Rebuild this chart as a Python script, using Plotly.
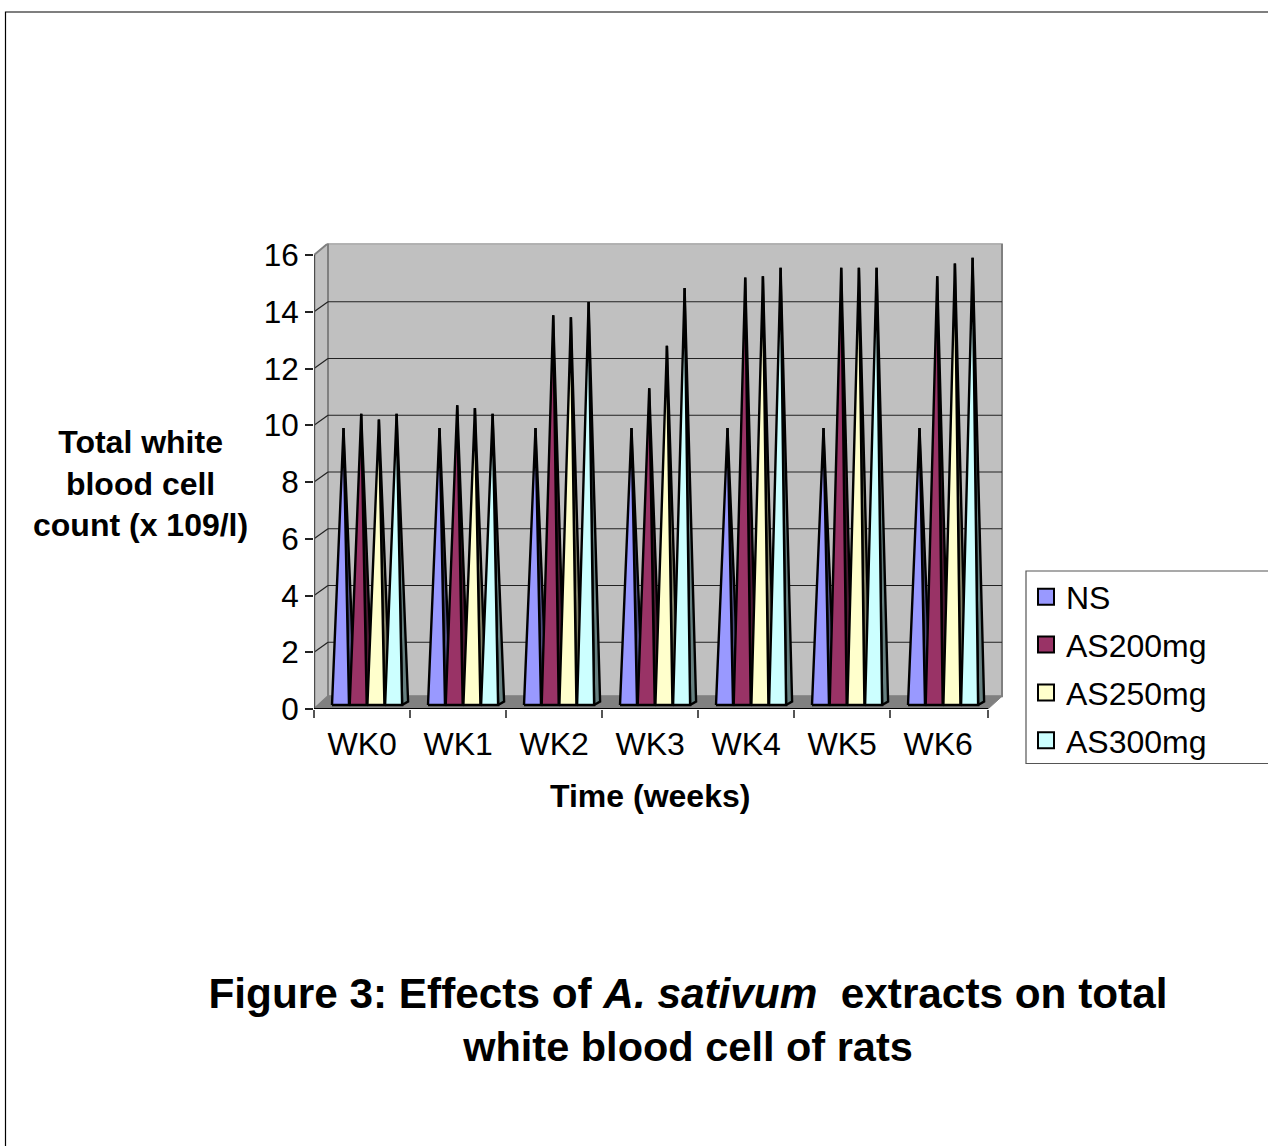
import plotly.graph_objects as go

categories = ["WK0", "WK1", "WK2", "WK3", "WK4", "WK5", "WK6"]
series_names = ["NS", "AS200mg", "AS250mg", "AS300mg"]
ns = [9.7, 9.7, 9.7, 9.7, 9.7, 9.7, 9.7]
as200 = [10.2, 10.5, 13.67, 11.1, 15.0, 15.35, 15.05]
as250 = [10.0, 10.4, 13.6, 12.6, 15.05, 15.35, 15.5]
as300 = [10.2, 10.2, 14.14, 14.63, 15.35, 15.35, 15.7]
series_values = [ns, as200, as250, as300]
y_ticks = list(range(0, 17, 2))

face_colors = ["#9999FF", "#993366", "#FFFFCC", "#CCFFFF"]
side_colors = ["#4C4C80", "#4C1933", "#808066", "#668080"]

W, H = 1268, 1146
X0, X1, Y0, Y1 = 314, 1003, 709, 243.5
PX = 674 / 7
PY = (709 - 255) / 16
PITCH = 96 / PX
DX, DY = 14 / PX, 11.7 / PY
GRID_DY, FLOOR_DY = 10 / PY, 12.7 / PY
FIRST, STEP, WIDTH = 18 / PX, 17.7 / PX, 17 / PX
SIDE_X, SIDE_Y, BASE = 6 / PX, 3.5 / PY, 4 / PY

fig = go.Figure()
for s, values in enumerate(series_values):
    fx, fy, sx, sy = [], [], [], []
    for g, v in enumerate(values):
        left = g * PITCH + FIRST + s * STEP
        right = left + WIDTH
        apex_x = left + (WIDTH + SIDE_X) / 2
        apex_y = BASE + SIDE_Y / 2 + v
        fx += [left, apex_x, right, left, None]
        fy += [BASE, apex_y, BASE, BASE, None]
        sx += [right, apex_x, right + SIDE_X, right, None]
        sy += [BASE, apex_y, BASE + SIDE_Y, BASE, None]
    line = dict(color="black", width=2.4)
    fig.add_trace(go.Scatter(x=sx, y=sy, mode="lines", fill="toself", fillcolor=side_colors[s],
                             line=line, showlegend=False, hoverinfo="skip"))
    fig.add_trace(go.Scatter(x=fx, y=fy, mode="lines", fill="toself", fillcolor=face_colors[s],
                             line=line, showlegend=False, name=series_names[s]))
for s, name in enumerate(series_names):
    fig.add_trace(go.Scatter(x=[None], y=[None], mode="markers", name=name, legendgroup=name,
                             marker=dict(symbol="square", size=16, color=face_colors[s],
                                         line=dict(color="black", width=2))))

n = len(categories)
top = y_ticks[-1]
shapes = [
    dict(type="path", path=f"M 0 0 L {DX} {FLOOR_DY} L {DX} {top+DY} L 0 {top} Z",
         fillcolor="#C0C0C0", line=dict(color="#808080", width=2), layer="below"),
    dict(type="rect", x0=DX, x1=n + DX, y0=FLOOR_DY, y1=top + DY,
         fillcolor="#C0C0C0", line=dict(color="#808080", width=2), layer="below"),
    dict(type="path", path=f"M 0 0 L {n} 0 L {n+DX} {FLOOR_DY} L {DX} {FLOOR_DY} Z",
         fillcolor="#808080", line=dict(color="#808080", width=1), layer="below"),
]
for t in y_ticks[1:-1]:
    shapes.append(dict(type="line", x0=DX, x1=n + DX, y0=t + GRID_DY, y1=t + GRID_DY,
                       line=dict(color="#222222", width=1.2), layer="below"))
    shapes.append(dict(type="line", x0=0, x1=DX, y0=t, y1=t + GRID_DY,
                       line=dict(color="#222222", width=1.2), layer="below"))
# axis lines, stopping at the front plane
shapes.append(dict(type="line", x0=0, x1=0, y0=0, y1=top, line=dict(color="#4D4D4D", width=2.4)))
shapes.append(dict(type="line", x0=0, x1=n, y0=0, y1=0, line=dict(color="black", width=2)))
# outer picture frame
shapes.append(dict(type="path", xref="paper", yref="paper",
                   path=f"M {5.5/W} 0 L {5.5/W} {1-12/H} L 1 {1-12/H}",
                   line=dict(color="black", width=1.2)))
# legend box, running off the right edge of the picture
shapes.append(dict(type="rect", xref="paper", yref="paper", x0=1026 / W, x1=1.01,
                   y0=1 - 763.5 / H, y1=1 - 571 / H, fillcolor="white",
                   line=dict(color="#555555", width=1.2), layer="below"))

AX = "Liberation Sans"
anno = dict(xref="paper", yref="paper", showarrow=False, xanchor="center", yanchor="middle",
            font=dict(family=AX, size=32, color="black"))
fig.update_layout(
    template="none",
    width=W, height=H, autosize=False, margin=dict(l=0, r=0, t=0, b=0, pad=0),
    paper_bgcolor="white", plot_bgcolor="rgba(0,0,0,0)",
    font=dict(family=AX, size=31, color="black"),
    shapes=shapes,
    title=dict(text="<b><span style=\"font-size:42.3px\">Figure 3: Effects of <i>A. sativum </i> extracts on total</span><br>white blood cell of rats</b>",
               x=688 / W, xanchor="center", y=1 - 1007.5 / H, yanchor="middle", automargin=False,
               font=dict(family=AX, size=41.5, color="black")),
    xaxis=dict(domain=[X0 / W, X1 / W], range=[0, (X1 - X0) / PX], tickmode="array",
               tickvals=[i * PITCH + 0.5 for i in range(n)], ticktext=categories, ticks="", automargin=False,
               ticklabelstandoff=13, showgrid=False, zeroline=False, showline=False,
               tickfont=dict(family=AX, size=32, color="black"),
               minor=dict(tickmode="array", tickvals=[i * PITCH for i in range(n)] + [n], ticks="outside",
                          ticklen=8, tickwidth=1.5, tickcolor="#555555", showgrid=False)),
    yaxis=dict(domain=[(H - Y0) / H, (H - Y1) / H], range=[0, (Y0 - Y1) / PY], tickmode="array",
               tickvals=y_ticks, ticks="outside", ticklen=8, tickwidth=1.5, tickcolor="#222222",
               tickfont=dict(family=AX, size=31.5, color="black"),
               automargin=False, showgrid=False, zeroline=False, showline=False),
    legend=dict(x=1026 / W, xanchor="left", y=1 - 569.5 / H, yanchor="top",
                bgcolor="rgba(0,0,0,0)", borderwidth=0,
                traceorder="grouped", tracegroupgap=3.2, itemsizing="trace",
                font=dict(family=AX, size=32, color="black")),
    annotations=[
        dict(anno, text="<b>Total white<br>blood cell<br>count (x 109/l)</b>", x=140 / W, y=1 - 484 / H),
        dict(anno, text="<b>Time (weeks)</b>", x=650 / W, y=1 - 796 / H),
    ],
)
fig.write_html("out.html", post_script="document.body.style.margin='0';",
               config=dict(displayModeBar=False))
